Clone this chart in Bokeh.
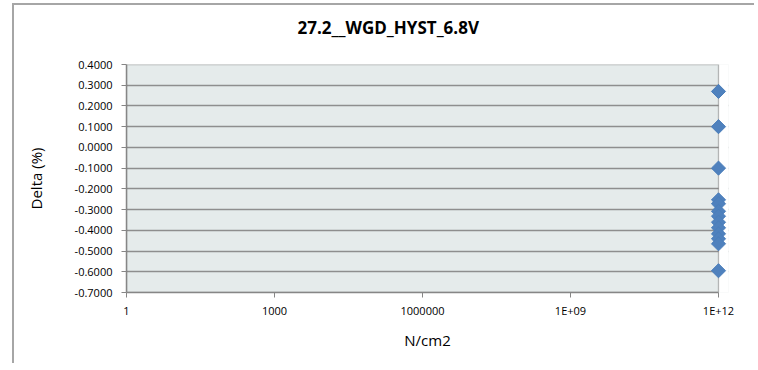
from bokeh.plotting import figure
from bokeh.models import FixedTicker, NumeralTickFormatter, BoxAnnotation, Range1d, Title
from bokeh.embed import file_html
from bokeh.resources import INLINE

# ---- data ----
title_text = "27.2__WGD_HYST_6.8V"
x_label = "N/cm2"
y_label = "Delta (%)"
x_ticks = [1, 1e3, 1e6, 1e9, 1e12]
x_tick_labels = ["1", "1000", "1000000", "1E+09", "1E+12"]
y_ticks = [-0.7, -0.6, -0.5, -0.4, -0.3, -0.2, -0.1, 0.0, 0.1, 0.2, 0.3, 0.4]
cycles = [1e12] * 13
delta = [0.27, 0.10, -0.10, -0.253, -0.272, -0.308, -0.332, -0.361,
         -0.388, -0.417, -0.441, -0.465, -0.595]

# ---- layout / style ----
FONT = "Open Sans"
frame_px = 592.0
pad_px = 10.0
x_start, x_end_vis = x_ticks[0], x_ticks[-1]
x_end = 10 ** (12 * (1 + pad_px / frame_px))

p = figure(width=742, height=360, x_axis_type="log", title=None,
           x_range=Range1d(x_start, x_end), y_range=Range1d(y_ticks[0], y_ticks[-1]),
           output_backend="svg", toolbar_location=None,
           min_border_left=112, min_border_right=28,
           min_border_top=59, min_border_bottom=73)

# outer chart border (left/top visible in the window)
p.styles = {"margin-left": "12px", "margin-top": "3px",
            "border-left": "2px solid #A6A6A6", "border-top": "2px solid #A6A6A6"}

p.background_fill_color = "#E5EBEB"
p.border_fill_color = "white"
p.outline_line_color = None

# title (with a spacer between it and the plot area)
p.add_layout(Title(text=" ", text_font_size="8px", text_color="white"), "above")
p.add_layout(Title(text=title_text, align="left", offset=171, text_font=FONT,
                   text_font_style="bold", text_font_size="17px",
                   text_color="black"), "above")

# grid
p.xgrid.visible = False
p.ygrid.ticker = FixedTicker(ticks=y_ticks)
p.ygrid.grid_line_color = "#8E8E8E"
p.ygrid.grid_line_width = 1.3

# white area right of 1E+12 (margin for markers)
p.add_layout(BoxAnnotation(left=x_end_vis, right=x_end * 100, top=1.0, bottom=-1.0,
                           fill_color="white", fill_alpha=1.0,
                           line_color=None, level="underlay"))
# plot-area border (top/right dark)
p.add_layout(BoxAnnotation(left=x_start, right=x_end_vis, bottom=y_ticks[0], top=y_ticks[-1],
                           fill_color=None, fill_alpha=0, line_color="#222222",
                           line_width=1.3, level="underlay"))

# axes
for ax in (p.xaxis[0], p.yaxis[0]):
    ax.axis_line_color = "#868686"
    ax.axis_line_width = 1.5
    ax.major_tick_line_color = "#868686"
    ax.major_tick_out = 5
    ax.major_tick_in = 0
    ax.minor_tick_line_color = None
    ax.major_label_text_font = FONT
    ax.major_label_text_font_size = "11px"
    ax.major_label_text_color = "black"
    ax.axis_label_text_font = FONT
    ax.axis_label_text_font_size = "15px"
    ax.axis_label_text_font_style = "normal"
    ax.axis_label_text_color = "black"

p.xaxis.ticker = FixedTicker(ticks=x_ticks)
p.xaxis.major_label_overrides = {t: l for t, l in zip(x_ticks, x_tick_labels)}
p.xaxis.bounds = (x_start, x_end_vis)
p.xaxis.axis_label = x_label
p.xaxis.major_label_standoff = 5
p.xaxis.axis_label_standoff = 9

p.yaxis.ticker = FixedTicker(ticks=y_ticks)
p.yaxis.formatter = NumeralTickFormatter(format="0.0000")
p.yaxis.axis_label = y_label
p.yaxis.major_label_standoff = 9
p.yaxis.axis_label_standoff = 26

# data
p.scatter(cycles, delta, marker="square", angle=0.7854, size=10,
          fill_color="#4F81BD", line_color="#4A7EBB")

open("out.html", "w").write(file_html(p, INLINE))
